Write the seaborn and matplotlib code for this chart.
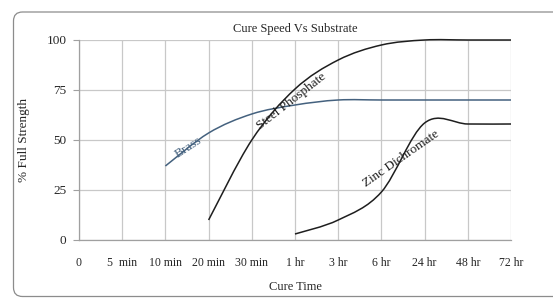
import numpy as np
import matplotlib
matplotlib.use("Agg")
import matplotlib.pyplot as plt
import seaborn as sns
from matplotlib.path import Path
from matplotlib.patches import PathPatch, FancyBboxPatch
from matplotlib.transforms import IdentityTransform

time_labels = ["0", "5  min", "10 min", "20 min", "30 min", "1 hr", "3 hr",
               "6 hr", "24 hr", "48 hr", "72 hr"]
y_ticks = [0, 25, 50, 75, 100]

brass_times = ["10 min", "20 min", "30 min", "1 hr", "3 hr", "6 hr", "24 hr", "48 hr", "72 hr"]
brass_vals = [37, 53.5, 63, 67.5, 70, 70, 70, 70, 70]

steel_times = ["20 min", "30 min", "1 hr", "3 hr", "6 hr", "24 hr", "48 hr", "72 hr"]
steel_vals = [10, 50, 75.5, 90, 97.5, 100, 100, 100]

zinc_times = ["1 hr", "3 hr", "6 hr", "24 hr", "48 hr", "72 hr"]
zinc_vals = [3, 10, 24, 58.5, 58, 58]

sns.set_style("white")
plt.rcParams['font.family'] = ['Liberation Serif', 'DejaVu Serif']

BRASS_C = "#44617e"
DARK_C = "#1e1e1e"
GRID_C = "#c8c8c8"


def smooth_curve(xs, ys):
    # excel style smoothed line: cubic bezier through the points
    pts = np.column_stack([xs, ys]).astype(float)
    n = len(pts)
    verts = [pts[0]]
    codes = [Path.MOVETO]
    for i in range(n - 1):
        p0 = pts[max(i - 1, 0)]
        p1 = pts[i]
        p2 = pts[i + 1]
        p3 = pts[min(i + 2, n - 1)]
        verts += [p1 + (p2 - p0) / 6, p2 - (p3 - p1) / 6, p2]
        codes += [Path.CURVE4] * 3
    return Path(verts, codes)


pos = {lab.replace("  ", " "): i for i, lab in enumerate(time_labels)}

fig = plt.figure(figsize=(5.53, 2.98), dpi=100)
ax = fig.add_axes([79 / 553, 1 - 240 / 298, (511 - 79) / 553, 200 / 298])

for times, vals, col in [(brass_times, brass_vals, BRASS_C),
                         (steel_times, steel_vals, DARK_C),
                         (zinc_times, zinc_vals, DARK_C)]:
    xs = [pos[t] for t in times]
    ax.add_patch(PathPatch(smooth_curve(xs, vals), fill=False, edgecolor=col,
                           lw=1.1, clip_on=False, zorder=3))

ax.set_xlim(0, len(time_labels) - 1)
ax.set_ylim(0, 100)
ax.set_xticks(range(len(time_labels)))
ax.set_xticklabels(time_labels, fontsize=8.5)
ax.set_yticks(y_ticks)
ax.set_yticklabels([str(v) for v in y_ticks], fontsize=9.5)
ax.tick_params(axis="x", length=0, pad=12)
ax.tick_params(axis="y", length=4, width=0.8, color="#a0a0a0", pad=5, left=True)
ax.grid(True, color=GRID_C, lw=0.9)
for side in ["top", "right"]:
    ax.spines[side].set_visible(False)
for side in ["left", "bottom"]:
    ax.spines[side].set_color("#a0a0a0")
    ax.spines[side].set_linewidth(0.9)

ax.set_ylabel("% Full Strength", fontsize=9.5, labelpad=12)
ax.set_xlabel("Cure Time", fontsize=9, labelpad=9)
fig.text(295 / 553, 1 - 29 / 298, "Cure Speed Vs Substrate", fontsize=9,
         ha="center", va="center")

ax.text(pos["20 min"] - 0.47, 46.5, "Brass", color=BRASS_C, fontsize=9.5,
        rotation=33, ha="center", va="center")
ax.text(pos["1 hr"] - 0.08, 69.5, "Steel Phosphate", color=DARK_C, fontsize=9.5,
        rotation=38, ha="center", va="center")
ax.text(pos["6 hr"] + 0.45, 40.5, "Zinc Dichromate", color=DARK_C, fontsize=9.5,
        rotation=35, ha="center", va="center")

border = FancyBboxPatch((13.5, 1.5), 560, 284.5, boxstyle="round,pad=0,rounding_size=9",
                        transform=IdentityTransform(), fill=False,
                        edgecolor="#8c8c8c", lw=0.9)
fig.patches.append(border)

fig.savefig("out.png", dpi=100)
